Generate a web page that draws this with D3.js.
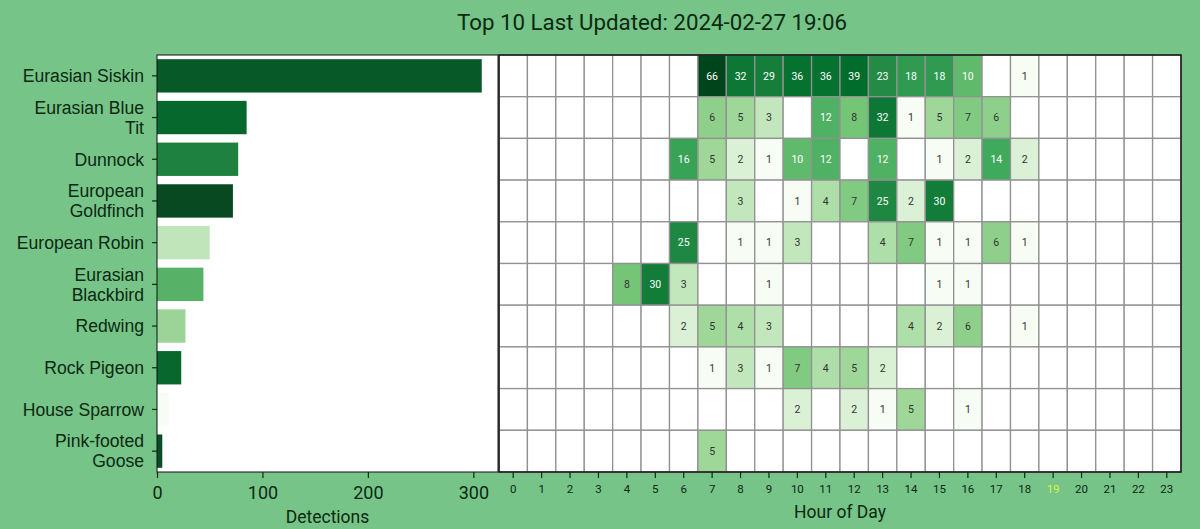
<!DOCTYPE html>
<html>
<head>
<meta charset="utf-8">
<script src="https://cdn.jsdelivr.net/npm/d3@7"></script>
<style>
  html, body { margin: 0; padding: 0; background: #76c488; }
  svg { display: block; font-family: Roboto, "Noto Sans", sans-serif; }
</style>
</head>
<body>
<svg id="chart" width="1200" height="529"></svg>
<script>
// ---------- data ----------
const title = "Top 10 Last Updated: 2024-02-27 19:06";
const species = [
  "Eurasian Siskin", "Eurasian Blue Tit", "Dunnock", "European Goldfinch",
  "European Robin", "Eurasian Blackbird", "Redwing", "Rock Pigeon",
  "House Sparrow", "Pink-footed Goose"
];
const speciesLabelLines = [
  ["Eurasian Siskin"], ["Eurasian Blue", "Tit"], ["Dunnock"], ["European", "Goldfinch"],
  ["European Robin"], ["Eurasian", "Blackbird"], ["Redwing"], ["Rock Pigeon"],
  ["House Sparrow"], ["Pink-footed", "Goose"]
];
const detections = [308, 85, 77, 72, 50, 44, 27, 23, 11, 5];
// max confidence per species (drives bar colour)
const maxConfidence = [0.975, 0.960, 0.930, 0.990, 0.788, 0.872, 0.821, 0.962, 0.720, 0.987];
const hours = d3.range(0, 24);
const hourLabels = ["0","1","2","3","4","5","6","7","8","9","10","11","12","13","14","15","16","17","18","19","20","21","22","23"];
const currentHour = 19;
// detections per hour (0..23) per species
const hourCounts = [
  [0,0,0,0,0,0,0,66,32,29,36,36,39,23,18,18,10,0,1,0,0,0,0,0],
  [0,0,0,0,0,0,0,6,5,3,0,12,8,32,1,5,7,6,0,0,0,0,0,0],
  [0,0,0,0,0,0,16,5,2,1,10,12,0,12,0,1,2,14,2,0,0,0,0,0],
  [0,0,0,0,0,0,0,0,3,0,1,4,7,25,2,30,0,0,0,0,0,0,0,0],
  [0,0,0,0,0,0,25,0,1,1,3,0,0,4,7,1,1,6,1,0,0,0,0,0],
  [0,0,0,0,8,30,3,0,0,1,0,0,0,0,0,1,1,0,0,0,0,0,0,0],
  [0,0,0,0,0,0,2,5,4,3,0,0,0,0,4,2,6,0,1,0,0,0,0,0],
  [0,0,0,0,0,0,0,1,3,1,7,4,5,2,0,0,0,0,0,0,0,0,0,0],
  [0,0,0,0,0,0,0,0,0,0,2,0,2,1,5,0,1,0,0,0,0,0,0,0],
  [0,0,0,0,0,0,0,5,0,0,0,0,0,0,0,0,0,0,0,0,0,0,0,0]
];

// ---------- styling / layout ----------
const textColor = "#0c2912";
const brewerGreens = ["#f7fcf5","#e5f5e0","#c7e9c0","#a1d99b","#74c476","#41ab5d","#238b45","#006d2c","#00441b"];
const greens = d3.scaleLinear().domain(d3.range(9).map(i => i / 8)).range(brewerGreens).interpolate(d3.interpolateRgb).clamp(true);
// bars in the reference look slightly duller than the pure palette at the dark end
const barGreens = t => d3.interpolateRgb(greens(t), "#3a6a48")(0.14 * t);

const svg = d3.select("#chart");
const plotTop = 55, plotBottom = 472;
const bar = { left: 157, right: 498 };
const heat = { left: 499, right: 1181 };

// title
svg.append("text")
  .attr("x", 652).attr("y", 30)
  .attr("text-anchor", "middle")
  .attr("font-size", 22.3)
  .attr("fill", textColor)
  .text(title);

// ---------- bar chart ----------
const x = d3.scaleLinear().domain([0, d3.max(detections) * 1.05]).range([bar.left, bar.right]);
const y = d3.scaleBand().domain(species).range([plotTop, plotBottom]).paddingInner(0.2).paddingOuter(0.1);
const confNorm = d3.scaleLinear().domain(d3.extent(maxConfidence)).range([0, 1]);

svg.append("rect")
  .attr("x", bar.left).attr("y", plotTop)
  .attr("width", bar.right - bar.left).attr("height", plotBottom - plotTop)
  .attr("fill", "#ffffff");

svg.append("g").selectAll("rect")
  .data(species)
  .join("rect")
  .attr("x", x(0))
  .attr("y", d => y(d))
  .attr("width", (d, i) => x(detections[i]) - x(0))
  .attr("height", y.bandwidth())
  .attr("fill", (d, i) => barGreens(confNorm(maxConfidence[i])));

svg.append("rect")
  .attr("x", bar.left).attr("y", plotTop)
  .attr("width", bar.right - bar.left).attr("height", plotBottom - plotTop)
  .attr("fill", "none").attr("stroke", "#111").attr("stroke-width", 1);

// x axis
const xAxis = svg.append("g")
  .attr("transform", `translate(0,${plotBottom})`)
  .call(d3.axisBottom(x).tickValues([0, 100, 200, 300]).tickSize(6).tickPadding(8));
xAxis.select(".domain").remove();
xAxis.selectAll("line").attr("stroke", textColor).attr("stroke-width", 1.2);
xAxis.selectAll("text").attr("font-size", 18).attr("fill", textColor).attr("font-family", "Roboto");

svg.append("text")
  .attr("x", (bar.left + bar.right) / 2).attr("y", 523)
  .attr("text-anchor", "middle").attr("font-size", 17.5).attr("fill", textColor)
  .text("Detections");

// y axis
const yAxis = svg.append("g")
  .attr("transform", `translate(${bar.left},0)`)
  .call(d3.axisLeft(y).tickSize(5).tickPadding(7).tickFormat(""));
yAxis.select(".domain").remove();
yAxis.selectAll("line").attr("stroke", textColor).attr("stroke-width", 1.2);
yAxis.selectAll(".tick").each(function(d, i) {
  const lines = speciesLabelLines[i];
  const t = d3.select(this).append("text")
    .attr("x", -13)
    .attr("text-anchor", "end")
    .attr("font-size", 17.6)
    .attr("fill", textColor);
  const lh = 20;
  const start = -((lines.length - 1) * lh) / 2;
  lines.forEach((ln, k) => {
    t.append("tspan").attr("x", -13).attr("y", start + k * lh).attr("dy", "0.36em").text(ln);
  });
});

// ---------- heatmap ----------
const hx = d3.scaleBand().domain(hours).range([heat.left, heat.right]);
const hy = d3.scaleBand().domain(species).range([plotTop, plotBottom]);
const allVals = hourCounts.flat().filter(v => v > 0);
const logNorm = d3.scaleLog().domain([d3.min(allVals), d3.max(allVals)]).range([0, 1]);

function luminance(c) {
  const rgb = d3.rgb(c);
  const f = v => { v /= 255; return v <= 0.03928 ? v / 12.92 : Math.pow((v + 0.055) / 1.055, 2.4); };
  return 0.2126 * f(rgb.r) + 0.7152 * f(rgb.g) + 0.0722 * f(rgb.b);
}

const cells = [];
hourCounts.forEach((row, i) => row.forEach((v, h) => cells.push({ s: species[i], h, v })));

svg.append("rect")
  .attr("x", heat.left).attr("y", plotTop)
  .attr("width", heat.right - heat.left).attr("height", plotBottom - plotTop)
  .attr("fill", "#ffffff");

svg.append("g").selectAll("rect")
  .data(cells)
  .join("rect")
  .attr("x", d => hx(d.h))
  .attr("y", d => hy(d.s))
  .attr("width", hx.bandwidth())
  .attr("height", hy.bandwidth())
  .attr("fill", d => d.v > 0 ? greens(logNorm(d.v)) : "#ffffff")
  .attr("stroke", "#929292")
  .attr("stroke-width", 1.3);

svg.append("g").selectAll("text")
  .data(cells.filter(d => d.v > 0))
  .join("text")
  .attr("x", d => hx(d.h) + hx.bandwidth() / 2)
  .attr("y", d => hy(d.s) + hy.bandwidth() / 2)
  .attr("dy", "0.36em")
  .attr("text-anchor", "middle")
  .attr("font-size", 10.5)
  .attr("fill", d => luminance(greens(logNorm(d.v))) < 0.408 ? "#ffffff" : "#333333")
  .text(d => d.v);

svg.append("rect")
  .attr("x", heat.left).attr("y", plotTop)
  .attr("width", heat.right - heat.left).attr("height", plotBottom - plotTop)
  .attr("fill", "none").attr("stroke", "#111").attr("stroke-width", 1.5);

const hAxis = svg.append("g")
  .attr("transform", `translate(0,${plotBottom})`)
  .call(d3.axisBottom(hx).tickSize(6).tickPadding(7).tickFormat(h => hourLabels[h]));
hAxis.select(".domain").remove();
hAxis.selectAll("line").attr("stroke", textColor).attr("stroke-width", 1.2);
hAxis.selectAll("text")
  .attr("font-size", 11.5)
  .attr("font-family", "Roboto")
  .attr("fill", h => h === currentHour ? "#d8f240" : textColor);

svg.append("text")
  .attr("x", (heat.left + heat.right) / 2).attr("y", 518)
  .attr("text-anchor", "middle").attr("font-size", 17.5).attr("fill", textColor)
  .text("Hour of Day");
</script>
</body>
</html>
